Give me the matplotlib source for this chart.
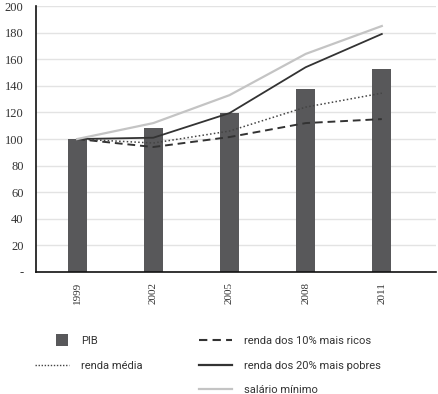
import matplotlib
matplotlib.use("Agg")
import matplotlib.pyplot as plt
from matplotlib.lines import Line2D
from matplotlib.patches import Patch, Rectangle
from matplotlib.legend_handler import HandlerPatch
import numpy as np

years = ["1999", "2002", "2005", "2008", "2011"]
pib = [100, 108, 119.5, 137.5, 152.5]
renda_ricos = [100, 94, 101.5, 112, 115]
renda_media = [100, 97, 106, 124, 134.5]
renda_pobres = [100, 101, 119.5, 154, 179]
salario_minimo = [100, 112, 133, 164, 185]
yticks = [0, 20, 40, 60, 80, 100, 120, 140, 160, 180, 200]
ytick_labels = ["-", "20", "40", "60", "80", "100", "120", "140", "160", "180", "200"]

serif = ["Liberation Serif", "DejaVu Serif"]
leg_prop = {"family": ["Roboto", "DejaVu Sans"], "size": 8.0}

fig = plt.figure(figsize=(4.38, 3.94), dpi=100)
ax = fig.add_axes([0.0822, 0.3096, 0.913, 0.675])
x = np.arange(len(years))

ax.bar(x, pib, width=0.25, color="#58585a", zorder=2)
ax.plot(x, renda_ricos, color="#333333", lw=1.4, ls=(0, (4, 2.5)), zorder=3)
ax.plot(x, renda_media, color="#444444", lw=1.1, ls=(0, (1, 1.5)), zorder=3)
ax.plot(x, renda_pobres, color="#333333", lw=1.3, zorder=3)
ax.plot(x, salario_minimo, color="#c4c4c4", lw=1.6, zorder=3)

ax.set_xlim(-0.54, 4.71)
ax.set_ylim(0, 200)
ax.set_yticks(yticks)
ax.set_yticklabels(ytick_labels, fontfamily=serif, fontsize=9, color="#333333")
ax.set_xticks(x)
ax.set_xticklabels(years, rotation=90, fontfamily=serif, fontsize=8, color="#333333")
ax.tick_params(axis="y", length=0, pad=9)
ax.tick_params(axis="x", length=0, pad=7)
ax.yaxis.grid(True, color="#e3e3e3", lw=1.0, zorder=0)
ax.set_axisbelow(True)
for s in ["top", "right"]:
    ax.spines[s].set_visible(False)
for s in ["left", "bottom"]:
    ax.spines[s].set_color("#111111")
    ax.spines[s].set_linewidth(1.2)


def square_patch(legend, orig_handle, xdescent, ydescent, width, height, fontsize):
    s = 1.08 * fontsize
    return Rectangle((-xdescent + width - s - 0.5, -ydescent + (height - s) / 2), s, s)


h1 = [Patch(facecolor="#58585a", edgecolor="none"),
      Line2D([0], [0], color="#444444", lw=1.0, ls=(0, (1, 1.2)))]
l1 = ["PIB", "renda média"]
h2 = [Line2D([0], [0], color="#333333", lw=1.5, ls=(0, (4, 2.5))),
      Line2D([0], [0], color="#333333", lw=1.6),
      Line2D([0], [0], color="#c4c4c4", lw=1.6)]
l2 = ["renda dos 10% mais ricos", "renda dos 20% mais pobres", "salário mínimo"]

common = dict(loc="upper left", frameon=False, prop=leg_prop, handlelength=3.0,
              labelspacing=1.3, handletextpad=1.1)
leg1 = fig.legend(h1, l1, bbox_to_anchor=(0.058, 0.172),
                  handler_map={Patch: HandlerPatch(patch_func=square_patch)}, **common)
leg2 = fig.legend(h2, l2, bbox_to_anchor=(0.431, 0.172), **common)
for t in leg1.get_texts() + leg2.get_texts():
    t.set_color("#333333")

fig.savefig("out.png", dpi=100)
